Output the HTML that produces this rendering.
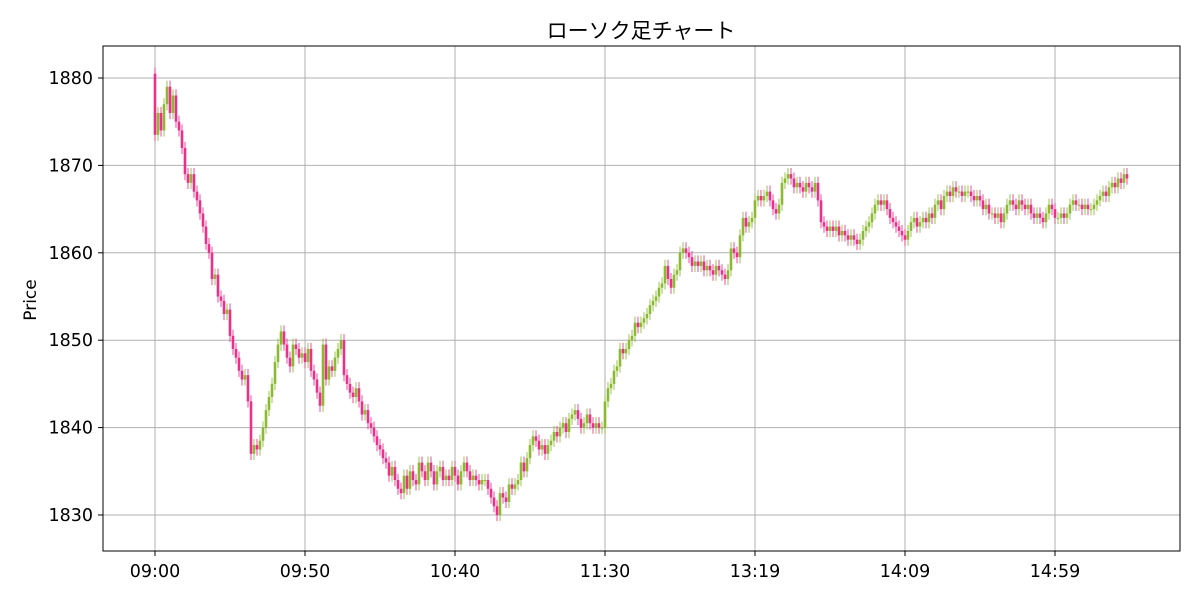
<!DOCTYPE html>
<html><head><meta charset="utf-8"><style>
body{margin:0;background:#fff;font-family:"DejaVu Sans","Noto Sans CJK JP",sans-serif;}
</style></head><body>
<svg id="chart" width="1200" height="600" xmlns="http://www.w3.org/2000/svg" style="font-family:'DejaVu Sans','Noto Sans CJK JP',sans-serif">
<rect width="1200" height="600" fill="#fff"/>
<text x="641" y="38" text-anchor="middle" font-size="21" fill="#000" style="font-family:'Noto Sans CJK JP',sans-serif">ローソク足チャート</text>
<text transform="translate(36,300) rotate(-90)" text-anchor="middle" font-size="17" fill="#000">Price</text>
<g id="grid"></g><g id="marks"></g><g id="axes"></g>
<rect x="103" y="46" width="1077" height="505" fill="none" stroke="#000" stroke-width="1"/>
</svg>
<script>
const closes=[1873.5,1876,1874,1877,1879,1876,1878,1875,1874,1872,1869,1868,1869,1867,1866,1864.5,1863,1861,1860,1857,1857.5,1855,1854.5,1853,1853.5,1850.5,1849,1848,1846.5,1845.5,1846,1843,1837,1838,1837.5,1838.5,1840,1842,1843.5,1845,1847.5,1849.5,1851,1849.5,1848,1847,1849.5,1849,1848,1848.5,1847.5,1849,1846.5,1845.5,1844,1842.5,1849.5,1845.5,1847,1846.5,1848,1849,1850,1846,1845,1844,1843.5,1844.5,1843,1841.5,1842,1840.5,1840,1839,1838,1837.5,1836.5,1836,1834.5,1835.5,1834,1833,1832.5,1834.5,1833,1835,1834,1833.5,1836,1835,1834,1836,1835,1833.5,1835,1835.5,1834,1834.5,1834,1835.5,1834.5,1833.5,1835,1836,1835,1834,1834.5,1834,1833.5,1834,1834,1833,1832,1831,1830,1832.5,1832,1831.5,1833.5,1833,1833.5,1834,1836,1835,1836.5,1838,1839,1838.5,1837.5,1838,1837,1838,1838.5,1839.5,1839,1840,1840.5,1839.5,1841,1841.5,1842,1841,1840,1840.5,1841.5,1840.5,1840,1840.5,1840,1840,1843,1844.5,1845,1846.5,1847,1849,1848.5,1849,1850,1850.5,1852,1851.5,1852,1852.5,1853,1854,1854.5,1855,1856,1856.5,1858.5,1857,1856,1857.5,1858,1860,1860.5,1860,1859.5,1858.5,1859,1858.5,1859,1858,1858.5,1858,1857.5,1858.5,1858,1857.5,1857,1858,1860.5,1860,1859.5,1862,1864,1863,1863.5,1864,1866,1866.5,1866,1866.5,1867,1866,1865,1864.5,1865.5,1868,1868.5,1869,1868.5,1867.5,1868,1867.5,1867,1868,1867.5,1867,1868,1866,1863.5,1863,1862.5,1863,1862.5,1863,1862,1862.5,1862,1861.5,1862,1861.5,1861,1861.5,1862.5,1863,1863.5,1864.5,1865.5,1866,1865.5,1866,1865,1864,1863.5,1863,1862.5,1862,1861.5,1862.5,1863.5,1864,1863,1863.5,1864,1863.5,1864.5,1864,1865.5,1866,1865,1866.5,1867,1866.5,1867.5,1867,1867,1866.5,1867,1867,1866.5,1866,1866.5,1866,1865,1865.5,1864.5,1864.5,1864,1864.5,1863.5,1864.5,1865.5,1866,1865.5,1865,1866,1865.5,1865,1865.5,1864.5,1864,1864.5,1864,1863.5,1864.5,1865.5,1865,1864,1864,1864.5,1864,1864.5,1865.5,1866,1865.5,1865.5,1865,1865.5,1865,1865,1865.5,1866,1866.5,1867,1866.5,1867.5,1868,1867.5,1868.5,1868,1869,1868.5];
const firstOpen=1880.5;
const yTicks=[1830,1840,1850,1860,1870,1880];
const xTickIdx=[0,50,100,150,200,250,300];
const xTickLabels=["09:00","09:50","10:40","11:30","13:19","14:09","14:59"];
const NS="http://www.w3.org/2000/svg";
function xs(i){return 155+3*i;}
function ys(p){return 78+(1880-p)*8.74;}
function mk(tag,attrs,parent){const e=document.createElementNS(NS,tag);for(const k in attrs)e.setAttribute(k,attrs[k]);parent.appendChild(e);return e;}
const grid=document.getElementById('grid'),marks=document.getElementById('marks'),axes=document.getElementById('axes');
yTicks.forEach(v=>{const y=ys(v);
 const l=mk('line',{x1:103,x2:1180,y1:y,y2:y,stroke:'#b0b0b0','stroke-width':1},grid);
 
 
 mk('line',{x1:98,x2:103,y1:y,y2:y,stroke:'#000'},axes);
 const t=mk('text',{x:93,y:y+6,'text-anchor':'end','font-size':17.5,fill:'#000'},axes);t.textContent=v;
 
 
});
xTickIdx.forEach((idx,k)=>{const x=xs(idx);
 const l=mk('line',{x1:x,x2:x,y1:46,y2:551,stroke:'#b0b0b0','stroke-width':1},grid);
 
 
 mk('line',{x1:x,x2:x,y1:551,y2:556,stroke:'#000'},axes);
 const t=mk('text',{x:x,y:577,'text-anchor':'middle','font-size':17.5,fill:'#000'},axes);t.textContent=xTickLabels[k];
 
 
});
closes.forEach((c,i)=>{const o=i===0?firstOpen:closes[i-1];
 const up=c>=o,col=up?'#8bb92f':'#ec2f8b';
 const hi=Math.max(o,c)+0.7,lo=Math.min(o,c)-0.7,x=xs(i);
 const w=mk('line',{x1:x,x2:x,y1:ys(hi),y2:ys(lo),stroke:col,'stroke-width':1,opacity:0.85},marks);
 
 
 const top=ys(Math.max(o,c)),h=Math.max(1,ys(Math.min(o,c))-top);
 const b=mk('rect',{x:x-1.3,y:top,width:2.6,height:h,fill:col},marks);
 
 
});
</script>
</body></html>
